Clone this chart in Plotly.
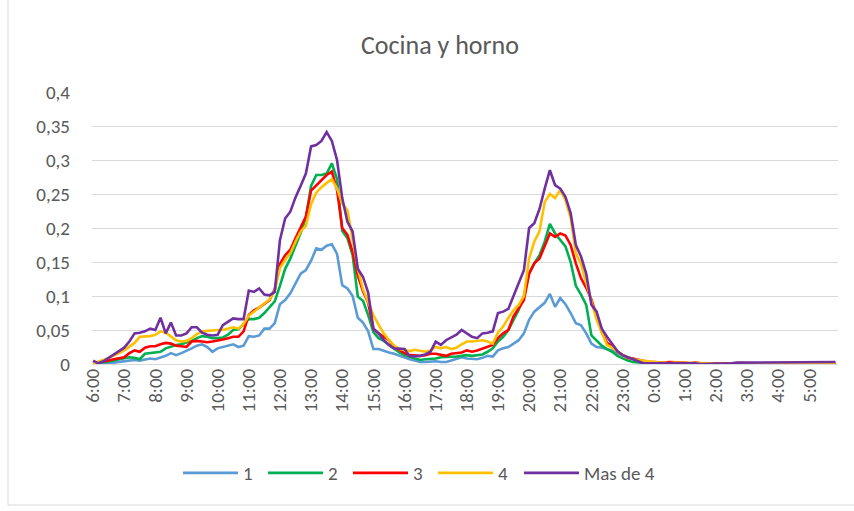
import plotly.graph_objects as go

# 10-minute intervals from 6:00 to 5:50 (144 points)
times = [f"{(6 + k // 6) % 24}:{(k % 6) * 10:02d}" for k in range(144)]
hour_labels = ["6:00", "7:00", "8:00", "9:00", "10:00", "11:00", "12:00", "13:00",
               "14:00", "15:00", "16:00", "17:00", "18:00", "19:00", "20:00", "21:00",
               "22:00", "23:00", "0:00", "1:00", "2:00", "3:00", "4:00", "5:00"]
y_ticks = [0, 0.05, 0.1, 0.15, 0.2, 0.25, 0.3, 0.35, 0.4]

s1 = [0.000, 0.001, 0.001, 0.002, 0.002, 0.003, 0.004, 0.005, 0.006, 0.005, 0.007, 0.008,
      0.007, 0.009, 0.012, 0.016, 0.013, 0.016, 0.019, 0.023, 0.027, 0.029, 0.025, 0.018,
      0.023, 0.025, 0.027, 0.029, 0.025, 0.027, 0.041, 0.040, 0.042, 0.052, 0.052, 0.060,
      0.088, 0.094, 0.104, 0.119, 0.133, 0.138, 0.152, 0.170, 0.168, 0.174, 0.176, 0.162,
      0.116, 0.111, 0.100, 0.068, 0.061, 0.048, 0.022, 0.022, 0.019, 0.017, 0.015, 0.012,
      0.009, 0.007, 0.005, 0.003, 0.003, 0.004, 0.004, 0.003, 0.003, 0.005, 0.008, 0.010,
      0.008, 0.008, 0.007, 0.009, 0.012, 0.011, 0.020, 0.023, 0.025, 0.030, 0.035, 0.045,
      0.065, 0.077, 0.084, 0.090, 0.103, 0.084, 0.097, 0.088, 0.075, 0.060, 0.057, 0.045,
      0.030, 0.025, 0.024, 0.022, 0.020, 0.016, 0.013, 0.009, 0.006, 0.004, 0.002, 0.001,
      0.000, 0.001, 0.000, 0.000, 0.000, 0.000, 0.001, 0.000, 0.000, 0.000, 0.000, 0.000,
      0.000, 0.000, 0.000, 0.000, 0.000, 0.000, 0.000, 0.000, 0.000, 0.000, 0.000, 0.000,
      0.000, 0.000, 0.000, 0.000, 0.000, 0.000, 0.000, 0.000, 0.000, 0.000, 0.000, 0.000]

s2 = [0.000, 0.001, 0.002, 0.004, 0.005, 0.007, 0.008, 0.010, 0.009, 0.007, 0.015, 0.016,
      0.016, 0.018, 0.023, 0.026, 0.028, 0.029, 0.031, 0.034, 0.038, 0.041, 0.040, 0.038,
      0.038, 0.039, 0.043, 0.050, 0.051, 0.058, 0.066, 0.066, 0.068, 0.075, 0.083, 0.092,
      0.115, 0.140, 0.155, 0.173, 0.193, 0.215, 0.262, 0.278, 0.278, 0.280, 0.295, 0.272,
      0.196, 0.185, 0.160, 0.099, 0.093, 0.072, 0.047, 0.038, 0.034, 0.028, 0.022, 0.017,
      0.013, 0.011, 0.008, 0.006, 0.007, 0.007, 0.008, 0.010, 0.010, 0.010, 0.011, 0.012,
      0.013, 0.012, 0.013, 0.014, 0.018, 0.023, 0.033, 0.040, 0.050, 0.065, 0.080, 0.100,
      0.133, 0.148, 0.160, 0.180, 0.206, 0.192, 0.183, 0.173, 0.150, 0.115, 0.102, 0.087,
      0.042, 0.035, 0.027, 0.022, 0.018, 0.012, 0.008, 0.005, 0.003, 0.002, 0.001, 0.001,
      0.001, 0.000, 0.001, 0.000, 0.000, 0.001, 0.000, 0.000, 0.000, 0.000, 0.000, 0.000,
      0.000, 0.000, 0.000, 0.000, 0.000, 0.000, 0.001, 0.000, 0.000, 0.000, 0.000, 0.000,
      0.000, 0.000, 0.000, 0.000, 0.000, 0.000, 0.000, 0.000, 0.000, 0.000, 0.000, 0.001]

s3 = [0.001, 0.002, 0.004, 0.005, 0.007, 0.008, 0.010, 0.016, 0.020, 0.018, 0.024, 0.026,
      0.026, 0.029, 0.031, 0.030, 0.027, 0.026, 0.025, 0.033, 0.034, 0.033, 0.032, 0.033,
      0.034, 0.036, 0.038, 0.040, 0.040, 0.048, 0.072, 0.079, 0.083, 0.088, 0.094, 0.110,
      0.147, 0.160, 0.168, 0.185, 0.201, 0.217, 0.255, 0.263, 0.270, 0.278, 0.283, 0.256,
      0.200, 0.190, 0.165, 0.130, 0.107, 0.090, 0.052, 0.045, 0.040, 0.035, 0.025, 0.020,
      0.016, 0.013, 0.012, 0.012, 0.013, 0.015, 0.015, 0.014, 0.012, 0.015, 0.016, 0.017,
      0.020, 0.018, 0.020, 0.023, 0.025, 0.028, 0.038, 0.045, 0.050, 0.070, 0.082, 0.094,
      0.133, 0.148, 0.155, 0.175, 0.192, 0.187, 0.192, 0.189, 0.175, 0.148, 0.126, 0.112,
      0.095, 0.070, 0.047, 0.031, 0.026, 0.018, 0.014, 0.009, 0.008, 0.006, 0.005, 0.003,
      0.003, 0.002, 0.002, 0.003, 0.003, 0.002, 0.002, 0.001, 0.002, 0.001, 0.001, 0.001,
      0.001, 0.001, 0.001, 0.001, 0.001, 0.002, 0.001, 0.001, 0.001, 0.001, 0.002, 0.001,
      0.001, 0.001, 0.001, 0.001, 0.002, 0.001, 0.001, 0.001, 0.001, 0.001, 0.001, 0.001]

s4 = [0.001, 0.003, 0.006, 0.009, 0.012, 0.016, 0.020, 0.026, 0.031, 0.040, 0.040, 0.041,
      0.043, 0.048, 0.046, 0.040, 0.035, 0.033, 0.034, 0.038, 0.044, 0.048, 0.049, 0.049,
      0.050, 0.050, 0.052, 0.054, 0.052, 0.059, 0.071, 0.077, 0.083, 0.089, 0.095, 0.108,
      0.141, 0.153, 0.163, 0.180, 0.195, 0.203, 0.235, 0.252, 0.260, 0.266, 0.272, 0.258,
      0.236, 0.226, 0.180, 0.140, 0.110, 0.092, 0.072, 0.058, 0.045, 0.035, 0.027, 0.022,
      0.020, 0.019, 0.021, 0.020, 0.018, 0.020, 0.025, 0.023, 0.025, 0.022, 0.024, 0.029,
      0.033, 0.033, 0.034, 0.035, 0.033, 0.030, 0.046, 0.055, 0.068, 0.079, 0.087, 0.100,
      0.155, 0.180, 0.195, 0.238, 0.250, 0.244, 0.256, 0.241, 0.215, 0.163, 0.147, 0.120,
      0.090, 0.065, 0.047, 0.028, 0.024, 0.019, 0.013, 0.010, 0.007, 0.006, 0.005, 0.003,
      0.003, 0.002, 0.002, 0.001, 0.002, 0.002, 0.001, 0.001, 0.002, 0.001, 0.001, 0.001,
      0.000, 0.001, 0.000, 0.001, 0.001, 0.002, 0.001, 0.001, 0.002, 0.001, 0.001, 0.001,
      0.001, 0.001, 0.002, 0.001, 0.001, 0.001, 0.001, 0.001, 0.001, 0.001, 0.002, 0.002]

s5 = [0.005, 0.001, 0.004, 0.009, 0.014, 0.018, 0.024, 0.033, 0.045, 0.046, 0.048, 0.052,
      0.050, 0.068, 0.045, 0.061, 0.042, 0.042, 0.045, 0.054, 0.054, 0.046, 0.043, 0.042,
      0.043, 0.057, 0.062, 0.067, 0.066, 0.066, 0.108, 0.106, 0.111, 0.102, 0.101, 0.106,
      0.182, 0.214, 0.224, 0.245, 0.262, 0.280, 0.320, 0.322, 0.328, 0.341, 0.328, 0.300,
      0.244, 0.209, 0.195, 0.140, 0.128, 0.105, 0.052, 0.045, 0.035, 0.028, 0.023, 0.023,
      0.022, 0.011, 0.011, 0.012, 0.014, 0.018, 0.033, 0.028, 0.035, 0.039, 0.043, 0.050,
      0.045, 0.040, 0.038, 0.045, 0.046, 0.048, 0.075, 0.077, 0.081, 0.099, 0.119, 0.138,
      0.200, 0.207, 0.228, 0.258, 0.285, 0.263, 0.258, 0.246, 0.222, 0.175, 0.158, 0.133,
      0.087, 0.077, 0.052, 0.040, 0.030, 0.019, 0.013, 0.010, 0.007, 0.004, 0.001, 0.001,
      0.001, 0.002, 0.001, 0.001, 0.002, 0.001, 0.002, 0.001, 0.001, 0.000, 0.000, 0.000,
      0.000, 0.001, 0.000, 0.001, 0.002, 0.002, 0.003, 0.002, 0.003, 0.002, 0.003, 0.002,
      0.002, 0.003, 0.003, 0.003, 0.003, 0.003, 0.002, 0.002, 0.002, 0.003, 0.003, 0.003]

series_names = ["1", "2", "3", "4", "Mas de 4"]
series_values = [s1, s2, s3, s4, s5]
series_colors = ["#5B9BD5", "#00B050", "#FF0000", "#FFC000", "#7030A0"]
legend_ids = ["legend", "legend2", "legend3", "legend4", "legend5"]
legend_left_px = [178, 263, 348, 433, 519]

FONT = "Carlito, Calibri, Lato, sans-serif"
TXT = "#595959"

fig = go.Figure()
for name, vals, col, lid in zip(series_names, series_values, series_colors, legend_ids):
    fig.add_trace(go.Scatter(x=times, y=vals, name=name, mode="lines", legend=lid,
                             line=dict(color=col, width=2.6)))

W, H = 854, 511
L, R, T, B = 92, 16, 92, 147
pw = W - L - R
ph = H - T - B

def px2x(p):
    return (p - L) / pw

def py2y(p):
    return (H - B - p) / ph

legend_common = dict(orientation="h", xanchor="left", yanchor="middle",
                     bgcolor="rgba(0,0,0,0)", itemwidth=55,
                     font=dict(family=FONT, size=19, color=TXT))
legends = {}
for lid, lx in zip(legend_ids, legend_left_px):
    legends[lid] = dict(legend_common, x=px2x(lx), y=py2y(473))

fig.update_layout(
    width=W, height=H,
    margin=dict(l=L, r=R, t=T, b=B),
    paper_bgcolor="white", plot_bgcolor="white",
    separators=",.",
    font=dict(family=FONT, color=TXT, size=18),
    title=dict(text="Cocina y horno", x=px2x(440), xref="paper", xanchor="center",
               y=1 - 45 / H, yref="container", yanchor="middle",
               font=dict(family=FONT, size=26, color=TXT)),
    xaxis=dict(type="category", categoryorder="array", categoryarray=times,
               range=[-0.2, 143.5], tickmode="array", tickvals=hour_labels,
               ticktext=hour_labels, tickangle=-90, showgrid=False,
               showline=False, zeroline=False, ticks="",
               tickfont=dict(family=FONT, size=19, color=TXT)),
    yaxis=dict(range=[0, 0.4], tickmode="array", tickvals=y_ticks,
               tickformat=".2~f", showgrid=True, gridcolor="#d9d9d9",
               gridwidth=1.3, zeroline=True, zerolinecolor="#d9d9d9",
               zerolinewidth=1.3, showline=False, ticks="",
               ticklabelstandoff=21,
               tickfont=dict(family=FONT, size=19, color=TXT)),
    showlegend=True,
    **legends,
)

fig.add_shape(type="line", xref="paper", yref="paper",
              x0=px2x(8), x1=px2x(8), y0=py2y(505), y1=py2y(0),
              line=dict(color="#d9d9d9", width=1))
fig.add_shape(type="line", xref="paper", yref="paper",
              x0=px2x(8), x1=px2x(854), y0=py2y(505), y1=py2y(505),
              line=dict(color="#d9d9d9", width=1))

fig.write_html("out.html", config={"displayModeBar": False},
               post_script="document.body.style.margin='0px';")
